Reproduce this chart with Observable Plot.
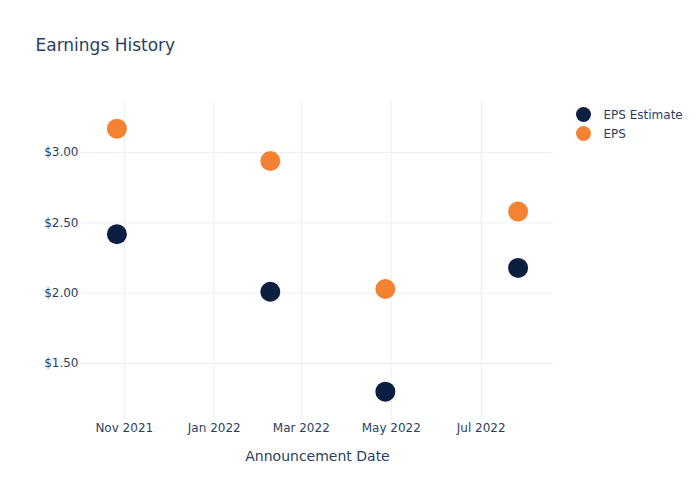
<!DOCTYPE html>
<html>
<head>
<meta charset="utf-8">
<script src="https://cdn.jsdelivr.net/npm/d3@7"></script>
<script src="https://cdn.jsdelivr.net/npm/@observablehq/plot@0.6"></script>
<style>
  html, body { margin: 0; padding: 0; background: #fff; }
</style>
</head>
<body>
<div id="chart"></div>
<script>
const titleText = "Earnings History";
const xLabel = "Announcement Date";
const seriesNames = ["EPS Estimate", "EPS"];
const dates = ["2021-10-27", "2022-02-08", "2022-04-27", "2022-07-26"];
const epsEstimate = [2.42, 2.01, 1.30, 2.18];
const epsActual = [3.17, 2.94, 2.03, 2.58];
const yTicks = [1.5, 2.0, 2.5, 3.0];
const xTicks = ["2021-11-01", "2022-01-01", "2022-03-01", "2022-05-01", "2022-07-01"];
const xDomain = ["2021-10-03", "2022-08-19"];
const yDomain = [1.095, 3.37];
const colors = ["#0c1f40", "#f58233"];

const data = [];
dates.forEach((d, i) => {
  data.push({date: new Date(d), value: epsEstimate[i], series: seriesNames[0]});
  data.push({date: new Date(d), value: epsActual[i], series: seriesNames[1]});
});
const xTickDates = xTicks.map(d => new Date(d));
const fmtX = d3.utcFormat("%b %Y");
const fmtY = d => "$" + d.toFixed(2);
const grid = "#ebf0f8";
const font = "DejaVu Sans, sans-serif";

const chart = Plot.plot({
  width: 700,
  height: 500,
  marginLeft: 81,
  marginRight: 147,
  marginTop: 100,
  marginBottom: 80,
  style: {fontFamily: font, color: "#2a3f5f", background: "#fff", overflow: "visible"},
  x: {type: "utc", domain: xDomain.map(d => new Date(d))},
  y: {domain: yDomain},
  color: {domain: seriesNames, range: colors},
  marks: [
    Plot.gridX(xTickDates, {stroke: grid, strokeOpacity: 1, strokeWidth: 1}),
    Plot.gridY(yTicks, {stroke: grid, strokeOpacity: 1, strokeWidth: 1}),
    Plot.axisX(xTickDates, {tickFormat: fmtX, tickSize: 0, tickPadding: 3, fontSize: 12, label: null}),
    Plot.axisY(yTicks, {tickFormat: fmtY, tickSize: 0, tickPadding: 3, fontSize: 12, label: null}),
    Plot.dot(data, {x: "date", y: "value", fill: "series", r: 10}),
    Plot.text([titleText], {frameAnchor: "top-left", dx: -46, dy: -62, textAnchor: "start", fontSize: 17, fill: "#2a3f5f"}),
    Plot.text([xLabel], {frameAnchor: "bottom", dy: 40, fontSize: 14, fill: "#2a3f5f"}),
    Plot.dot([seriesNames[0]], {frameAnchor: "top-right", dx: 30, dy: 14, r: 7.5, fill: d => d}),
    Plot.dot([seriesNames[1]], {frameAnchor: "top-right", dx: 30, dy: 33, r: 7.5, fill: d => d}),
    Plot.text([seriesNames[0]], {frameAnchor: "top-right", dx: 50, dy: 10, textAnchor: "start", fontSize: 12, fill: "#2a3f5f"}),
    Plot.text([seriesNames[1]], {frameAnchor: "top-right", dx: 50, dy: 29, textAnchor: "start", fontSize: 12, fill: "#2a3f5f"})
  ]
});
document.getElementById("chart").appendChild(chart);
</script>
</body>
</html>
